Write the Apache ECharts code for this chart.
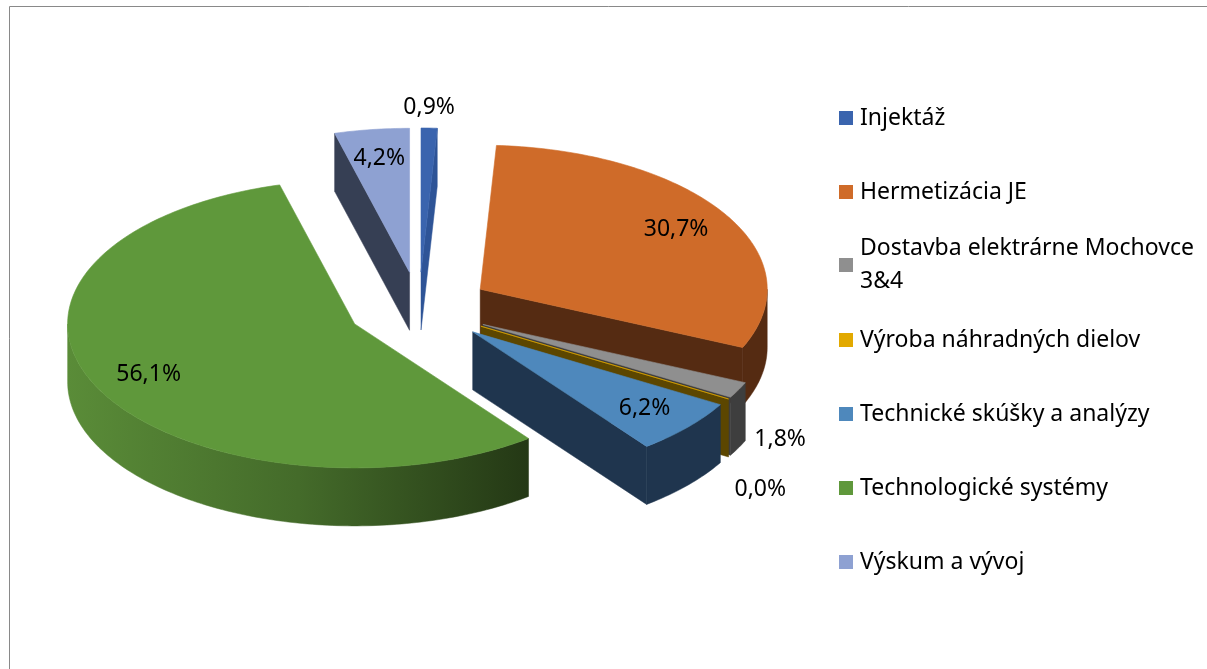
<!DOCTYPE html>
<html><head><meta charset="utf-8">
<script src="https://cdn.jsdelivr.net/npm/echarts@6/dist/echarts.min.js"></script>
<style>html,body{margin:0;padding:0;background:#fff}#main{width:1207px;height:669px}</style>
</head><body><div id="main"></div>
<script>
// ---- data ----
const categories = ['Injektáž', 'Hermetizácia JE', 'Dostavba elektrárne Mochovce 3&4', 'Výroba náhradných dielov', 'Technické skúšky a analýzy', 'Technologické systémy', 'Výskum a vývoj'];
const values = [0.9, 30.7, 1.8, 0.0, 6.2, 56.1, 4.2];

// ---- styles ----
const topColors = ['#3A64AE', '#CF6B29', '#8F8F8F', '#E2A900', '#4E88BC', '#5F983B', '#8EA1D2'];
const sideColors = ['#2E5497', '#552B12', '#3E3E3E', '#5C4600', '#1F354E', null, '#363F54'];
const FONT = 'Noto Sans';
const FS = 23;

// ---- layout of the 3D ellipse ----
const CX = 419, CY = 308, RX = 287, RY = 144, DEPTH = 58, EXPLODE = 0.25;
const rad = d => d * Math.PI / 180;

const total = values.reduce((a, b) => a + b, 0);
let acc = 0;
const geom = values.map((v) => {
  const s = acc / total * 360; acc += v; const e = acc / total * 360;
  const m = (s + e) / 2;
  const c = [CX + EXPLODE * RX * Math.sin(rad(m)), CY - EXPLODE * RY * Math.cos(rad(m))];
  return { s, e, m, c };
});
function rim(c, t, f) { f = f || 1; return [c[0] + RX * f * Math.sin(rad(t)), c[1] - RY * f * Math.cos(rad(t))]; }
function arc(c, a, b, dy) {
  const pts = []; const n = Math.max(1, Math.ceil(Math.abs(b - a)));
  for (let k = 0; k <= n; k++) { const p = rim(c, a + (b - a) * k / n); pts.push([p[0], p[1] + (dy || 0)]); }
  return pts;
}
const fmt = v => v.toFixed(1).replace('.', ',') + '%';

// label positions
let prevRight = null;
const labelPos = geom.map((g, i) => {
  const v = values[i];
  if (v >= 2) {
    const p = rim(g.c, g.m, 0.8);
    return { x: p[0], y: p[1], align: 'center' };
  }
  const r = rim(g.c, g.m);
  if (Math.cos(rad(g.m)) > 0.5) return { x: r[0], y: r[1] - 21, align: 'center' };
  let pos = { x: r[0] + 16, y: r[1] + DEPTH - 9, align: 'left' };
  if (prevRight && Math.abs(pos.y - prevRight.y) < 30) pos = { x: r[0] + 6, y: prevRight.y + 50, align: 'left' };
  prevRight = pos;
  return pos;
});

const greenSide = new echarts.graphic.LinearGradient(0, 0, 1, 0, [
  { offset: 0, color: '#5A8C38' }, { offset: 0.5, color: '#446B2A' }, { offset: 1, color: '#243815' }]);

function renderItem(params, api) {
  const i = params.dataIndex;
  const g = geom[i];
  const c = g.c, cb = [c[0], c[1] + DEPTH];
  const side = sideColors[i] || greenSide;
  const ch = [];
  const wall = (t) => {
    const r = rim(c, t);
    return { type: 'polygon', z2: 1, shape: { points: [c, r, [r[0], r[1] + DEPTH], cb] },
      style: { fill: side, stroke: side, lineWidth: 0.5 } };
  };
  if (Math.sin(rad(g.s)) < 0) ch.push(wall(g.s));
  if (Math.sin(rad(g.e)) > 0) ch.push(wall(g.e));
  const a = Math.max(g.s, 90), b = Math.min(g.e, 270);
  if (a < b) {
    const pts = arc(c, a, b, 0).concat(arc(c, b, a, DEPTH));
    ch.push({ type: 'polygon', z2: 2, shape: { points: pts }, style: { fill: side, stroke: side, lineWidth: 0.5 } });
  }
  ch.push({ type: 'polygon', z2: 5, shape: { points: [c].concat(arc(c, g.s, g.e, 0)) },
    style: { fill: topColors[i], stroke: topColors[i], lineWidth: 0.6 } });
  const lp = labelPos[i];
  ch.push({ type: 'text', z2: 10, x: lp.x, y: lp.y,
    style: { text: fmt(api.value(1)), fill: '#000', fontSize: FS, fontFamily: FONT, align: lp.align, verticalAlign: 'middle' } });
  return { type: 'group', children: ch };
}

const legendCommon = {
  orient: 'vertical', left: 839, icon: 'rect', itemWidth: 14, itemHeight: 14, padding: 0, itemGap: 41,
  selectedMode: false,
  textStyle: { fontSize: FS, fontFamily: FONT, color: '#000', lineHeight: 33, padding: [0, 0, 0, 2] }
};

const chart = echarts.init(document.getElementById('main'), null, { renderer: 'canvas' });
chart.setOption({
  backgroundColor: '#fff',
  animation: false,
  color: topColors,
  graphic: [{ type: 'rect', silent: true, shape: { x: 9.5, y: 6.5, width: 1300, height: 700 },
    style: { fill: 'none', stroke: '#898989', lineWidth: 1 } }],
  legend: [
    Object.assign({}, legendCommon, { top: 101.5, data: categories.slice(0, 2) }),
    Object.assign({}, legendCommon, { top: 215.5,
      data: [{ name: categories[2], textStyle: { padding: [33, 0, 0, 2] } }],
      formatter: n => n.replace(/ (\S+)$/, '\n$1') }),
    Object.assign({}, legendCommon, { top: 323.5, data: categories.slice(3) })
  ],
  series: [
    { type: 'pie', name: 'legend', radius: [0, 0], center: [CX, CY], silent: true,
      label: { show: false }, labelLine: { show: false },
      data: categories.map((n, i) => ({ name: n, value: values[i] })) },
    { type: 'custom', name: 'slices', coordinateSystem: 'none', renderItem: renderItem, silent: true,
      data: values.map((v, i) => [i, v]) }
  ]
});
</script>
</body></html>
